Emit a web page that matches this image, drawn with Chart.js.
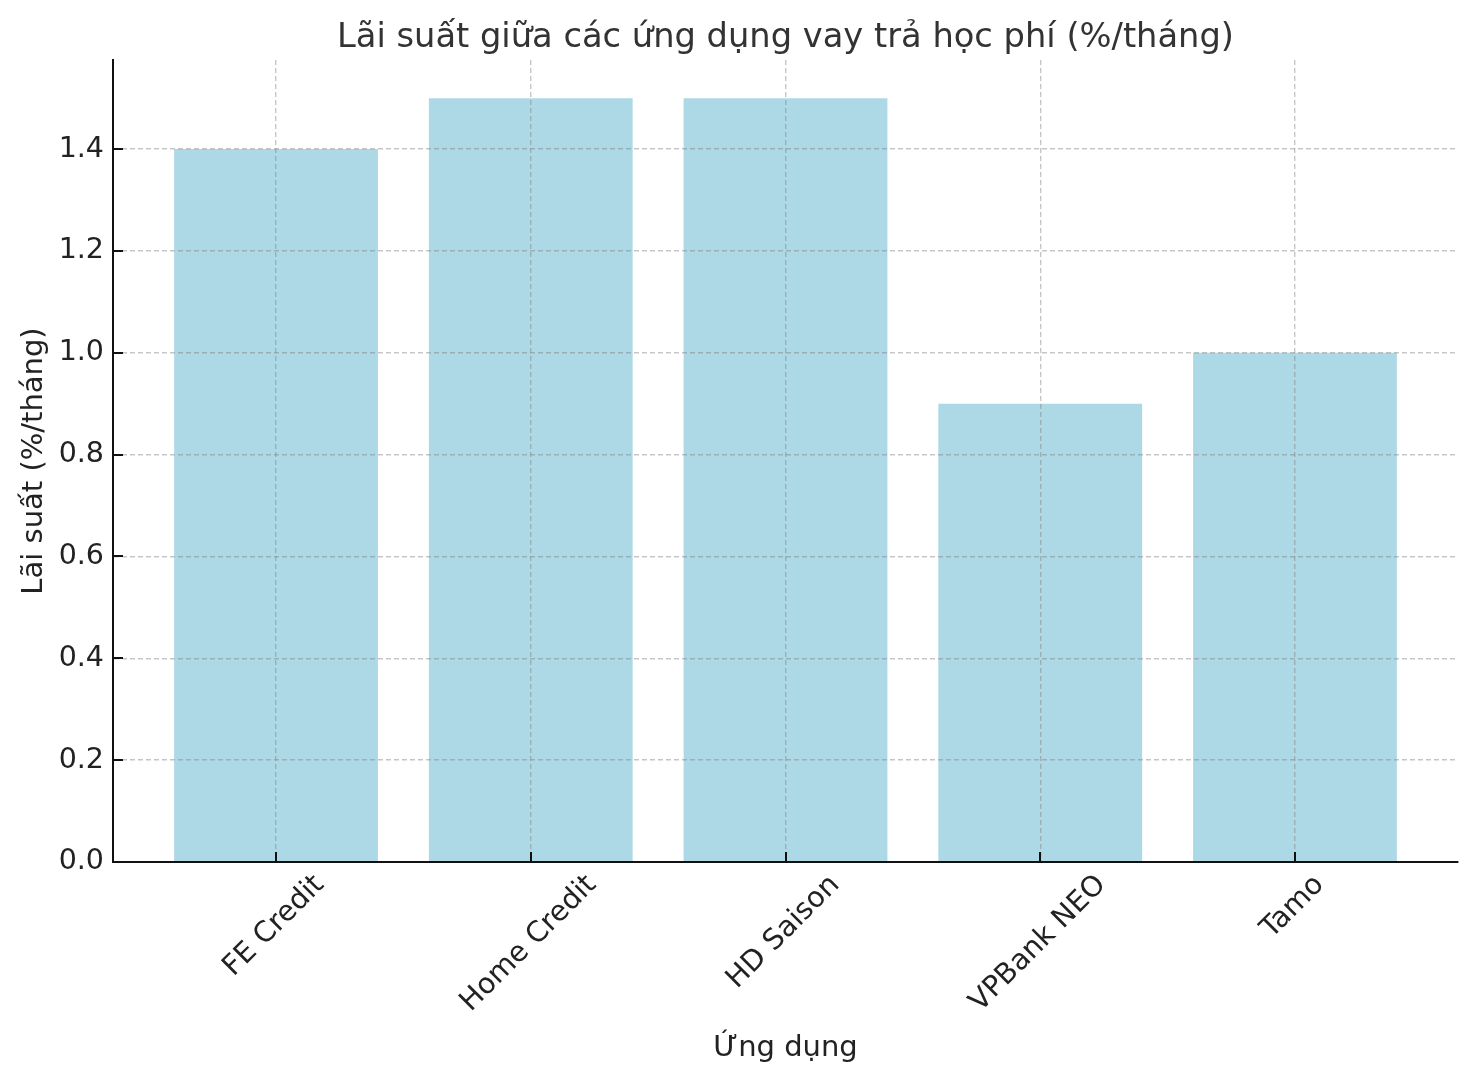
<!DOCTYPE html>
<html>
<head>
<meta charset="utf-8">
<script src="https://cdn.jsdelivr.net/npm/chart.js@4.4.0/dist/chart.umd.min.js"></script>
<style>
  body { margin: 0; background: #fff; }
</style>
</head>
<body>
<canvas id="chart" width="1475" height="1080"></canvas>
<script>
// data
const categories = ["FE Credit", "Home Credit", "HD Saison", "VPBank NEO", "Tamo"];
const rates = [1.4, 1.5, 1.5, 0.9, 1.0];
const yTicks = [0.0, 0.2, 0.4, 0.6, 0.8, 1.0, 1.2, 1.4];

const chartTitle = "Lãi suất giữa các ứng dụng vay trả học phí (%/tháng)";
const xTitle = "Ứng dụng";
const yTitle = "Lãi suất (%/tháng)";

const FONT = '"DejaVu Sans", sans-serif';

// draws inward tick marks, rotated category labels and the titles
const decor = {
  id: "decor",
  afterDraw(chart) {
    const { ctx, chartArea: a, scales } = chart;
    const x = scales.x, y = scales.y;
    ctx.save();

    // tick marks pointing into the plot
    ctx.strokeStyle = "#111";
    ctx.lineWidth = 2;
    ctx.beginPath();
    x.ticks.forEach((t) => {
      const p = Math.round(x.getPixelForValue(t.value));
      ctx.moveTo(p, a.bottom);
      ctx.lineTo(p, a.bottom - 10);
    });
    y.ticks.forEach((t) => {
      const p = Math.round(y.getPixelForValue(t.value));
      ctx.moveTo(a.left, p);
      ctx.lineTo(a.left + 10, p);
    });
    ctx.stroke();

    // category labels, rotated 45deg and centred on the tick
    ctx.fillStyle = "#222";
    ctx.font = "28.5px " + FONT;
    ctx.textAlign = "center";
    ctx.textBaseline = "middle";
    categories.forEach((c, i) => {
      const w = ctx.measureText(c).width;
      const px = x.getPixelForValue(i);
      ctx.save();
      ctx.translate(px - 2, a.bottom + 18.5 + w * 0.3536);
      ctx.rotate(-Math.PI / 4);
      ctx.fillText(c, 0, 0);
      ctx.restore();
    });

    // axis titles
    ctx.font = "29px " + FONT;
    ctx.textBaseline = "alphabetic";
    ctx.fillText(xTitle, (a.left + a.right) / 2, 1056);
    ctx.save();
    ctx.translate(42, (a.top + a.bottom) / 2);
    ctx.rotate(-Math.PI / 2);
    ctx.fillText(yTitle, 0, 0);
    ctx.restore();

    // main title
    ctx.fillStyle = "#333";
    ctx.font = "33.7px " + FONT;
    ctx.fillText(chartTitle, (a.left + a.right) / 2, 47);

    ctx.restore();
  }
};

const gridColor = "rgba(128,128,128,0.45)";

new Chart(document.getElementById("chart"), {
  type: "bar",
  data: {
    datasets: [{
      data: rates.map((v, i) => ({ x: i, y: v })),
      backgroundColor: "#ADD8E6",
      borderWidth: 0,
      barPercentage: 0.8,
      categoryPercentage: 1.0
    }]
  },
  options: {
    responsive: false,
    devicePixelRatio: 1,
    animation: false,
    layout: { padding: { top: 60, right: 17, left: 0, bottom: 0 } },
    plugins: {
      legend: { display: false },
      tooltip: { enabled: false }
    },
    scales: {
      x: {
        type: "linear",
        min: -0.64,
        max: 4.64,
        offset: false,
        afterBuildTicks: (s) => { s.ticks = categories.map((c, i) => ({ value: i })); },
        afterFit: (s) => { s.height = 218; },
        ticks: { display: false },
        grid: { color: gridColor, lineWidth: 1.4, drawTicks: false, offset: false, z: 1 },
        border: { display: true, color: "#111", width: 2, dash: [5, 3], z: 2 }
      },
      y: {
        min: 0,
        max: 1.575,
        afterBuildTicks: (s) => { s.ticks = yTicks.map((v) => ({ value: v })); },
        afterFit: (s) => { s.width = 113; },
        ticks: {
          color: "#222",
          font: { family: FONT, size: 28.5 },
          padding: 9,
          callback: (v) => Number(v).toFixed(1)
        },
        grid: { color: gridColor, lineWidth: 1.4, drawTicks: false, z: 1 },
        border: { display: true, color: "#111", width: 2, dash: [5, 3], z: 2 }
      }
    }
  },
  plugins: [decor]
});
</script>
</body>
</html>
